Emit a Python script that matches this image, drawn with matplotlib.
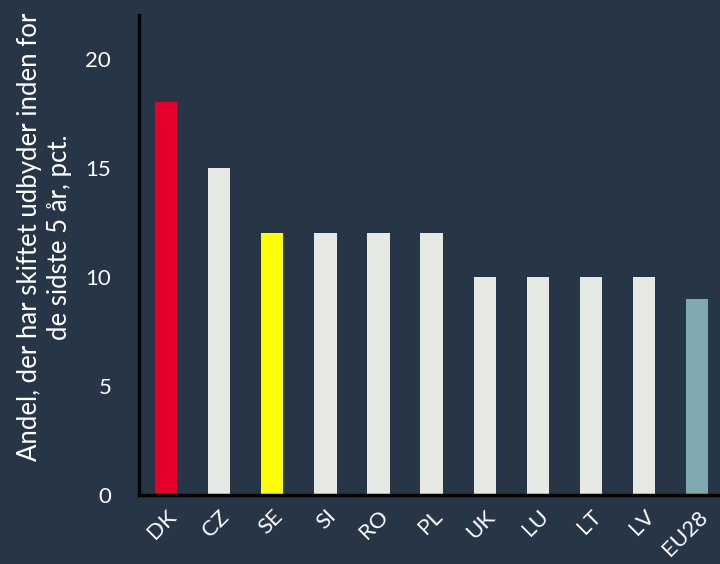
import matplotlib
matplotlib.use('Agg')
import matplotlib.pyplot as plt

# data
countries = ["DK", "CZ", "SE", "SI", "RO", "PL", "UK", "LU", "LT", "LV", "EU28"]
shares = [18, 15, 12, 12, 12, 12, 10, 10, 10, 10, 9]

bg = "#263646"
highlight = {"DK": "#E4002B", "SE": "#FFFF00", "EU28": "#80A9AF"}
colors = [highlight.get(c, "#E6E8E3") for c in countries]

plt.rcParams['font.family'] = ['Lato', 'DejaVu Sans']

fig = plt.figure(figsize=(7.2, 5.64), dpi=100, facecolor=bg)
ax = fig.add_axes([0.193, 0.122, 0.807, 0.851], facecolor=bg)

ax.bar(range(len(countries)), shares, width=0.42, color=colors)

ax.set_xlim(-0.51, 10.43)
ax.set_ylim(0, 22)
ax.set_yticks([0, 5, 10, 15, 20])
ax.set_xticks(range(len(countries)))
ax.set_xticklabels(countries, rotation=45, ha="right", va="top", rotation_mode="anchor")
ax.tick_params(axis="both", length=0, colors="white", labelsize=16, pad=8)
ax.tick_params(axis="y", pad=20)

for side in ["top", "right"]:
	ax.spines[side].set_visible(False)
for side in ["left", "bottom"]:
	ax.spines[side].set_color("black")
	ax.spines[side].set_linewidth(2.5)

ax.set_ylabel("Andel, der har skiftet udbyder inden for\nde sidste 5 år, pct.", color="white", fontsize=18.5, linespacing=1.25)
ax.yaxis.set_label_coords(-0.115, 0.5375)

plt.savefig("out.png", dpi=100, facecolor=bg)
plt.close()
